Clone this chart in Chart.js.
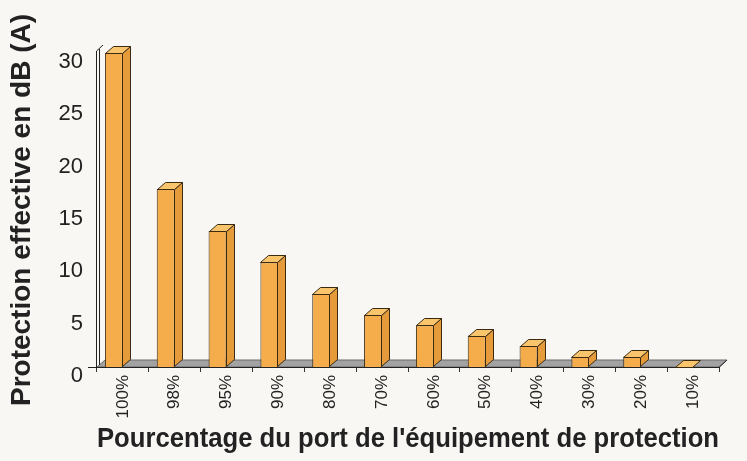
<!DOCTYPE html>
<html>
<head>
<meta charset="utf-8">
<script src="https://cdn.jsdelivr.net/npm/chart.js@4"></script>
<style>
  html, body { margin: 0; padding: 0; background: #f8f7f3; }
  #wrap { width: 747px; height: 461px; }
</style>
</head>
<body>
<div id="wrap"><canvas id="chart"></canvas></div>
<script>
// Data
const categories = ["100%", "98%", "95%", "90%", "80%", "70%", "60%", "50%", "40%", "30%", "20%", "10%"];
const protectionDb = [30, 17, 13, 10, 7, 5, 4, 3, 2, 1, 1, 0];
const yTicks = [0, 5, 10, 15, 20, 25, 30];

// 3D look
const DEPTH_X = 8;
const DEPTH_Y = -7;
const FRONT = "#f4ad4a";
const SIDE = "#e59b3a";
const TOP = "#f8c46c";
const EDGE = "#3b2a12";
const INK = "#222";

function poly(ctx, pts, fill) {
  ctx.beginPath();
  ctx.moveTo(pts[0][0], pts[0][1]);
  for (let i = 1; i < pts.length; i++) ctx.lineTo(pts[i][0], pts[i][1]);
  ctx.closePath();
  ctx.fillStyle = fill;
  ctx.fill();
  ctx.stroke();
}

const box3d = {
  id: "box3d",
  beforeDatasetsDraw(chart) {
    const { ctx, chartArea: a } = chart;
    const y0 = chart.scales.y.getPixelForValue(0);
    ctx.save();
    ctx.lineWidth = 1;
    // floor
    ctx.strokeStyle = "#6a6a6a";
    poly(ctx, [[a.left, y0], [a.right, y0], [a.right + DEPTH_X, y0 + DEPTH_Y], [a.left + DEPTH_X, y0 + DEPTH_Y]], "#a2a2a2");
    ctx.strokeStyle = "#222";
    ctx.beginPath();
    ctx.moveTo(a.left - 9, y0 + 0.5);
    ctx.lineTo(a.right, y0 + 0.5);
    ctx.lineTo(a.right + DEPTH_X, y0 + DEPTH_Y);
    ctx.stroke();
    // left wall
    const top = a.top - 2;
    ctx.beginPath();
    ctx.moveTo(a.left - 0.5, y0);
    ctx.lineTo(a.left - 0.5, top);
    ctx.lineTo(a.left + 6, top - 6);
    ctx.moveTo(a.left + 2.5, y0 - 2);
    ctx.lineTo(a.left + 2.5, top - 2);
    ctx.stroke();
    ctx.restore();
  },
  afterDatasetsDraw(chart) {
    const { ctx } = chart;
    const meta = chart.getDatasetMeta(0);
    ctx.save();
    ctx.lineWidth = 1;
    ctx.strokeStyle = EDGE;
    meta.data.forEach((bar) => {
      const p = bar.getProps(["x", "y", "base", "width"], true);
      const x1 = Math.round(p.x - p.width / 2) + 0.5;
      const x2 = Math.round(p.x + p.width / 2) - 0.5;
      const yt = Math.round(p.y) + 0.5;
      const yb = Math.round(p.base) - 0.5;
      if (yb > yt) {
        poly(ctx, [[x2, yt], [x2 + DEPTH_X, yt + DEPTH_Y], [x2 + DEPTH_X, yb + DEPTH_Y], [x2, yb]], SIDE);
      }
      poly(ctx, [[x1, yt], [x1 + DEPTH_X, yt + DEPTH_Y], [x2 + DEPTH_X, yt + DEPTH_Y], [x2, yt]], TOP);
    });
    ctx.restore();
  }
};

new Chart(document.getElementById("chart"), {
  type: "bar",
  data: {
    labels: categories,
    datasets: [
      {
        data: protectionDb,
        backgroundColor: FRONT,
        borderColor: EDGE,
        borderWidth: 1,
        categoryPercentage: 0.695,
        barPercentage: 1
      },
      // empty partner so the front face sits left of the category centre
      { data: categories.map(() => null), categoryPercentage: 0.695, barPercentage: 1 }
    ]
  },
  options: {
    responsive: true,
    maintainAspectRatio: false,
    animation: false,
    layout: { padding: { top: 53, right: 28, left: 0, bottom: 0 } },
    plugins: { legend: { display: false }, tooltip: { enabled: false } },
    scales: {
      x: {
        border: { display: false },
        grid: { display: true, drawOnChartArea: false, tickLength: 5, color: "#333", offset: true },
        ticks: {
          minRotation: 90,
          maxRotation: 90,
          padding: 3,
          color: INK,
          font: { family: "Liberation Sans", size: 17 }
        },
        title: {
          display: true,
          text: "Pourcentage du port de l'équipement de protection",
          color: INK,
          font: { family: "Liberation Sans", size: 28, weight: "bold" },
          padding: { top: 0, bottom: 5 }
        },
        afterFit(scale) { scale.height = 461 - 367; }
      },
      y: {
        min: 0,
        max: 30,
        border: { display: false },
        grid: { display: false },
        afterBuildTicks(scale) { scale.ticks = yTicks.map((v) => ({ value: v })); },
        ticks: {
          padding: 6,
          labelOffset: 9,
          color: INK,
          font: { family: "Liberation Sans", size: 22 }
        },
        title: {
          display: true,
          text: "Protection effective en dB (A)",
          color: INK,
          font: { family: "Liberation Sans", size: 28, weight: "bold" },
          padding: { top: 5, bottom: 4 }
        },
        afterFit(scale) { scale.width = 97; }
      }
    }
  },
  plugins: [box3d]
});
</script>
</body>
</html>
